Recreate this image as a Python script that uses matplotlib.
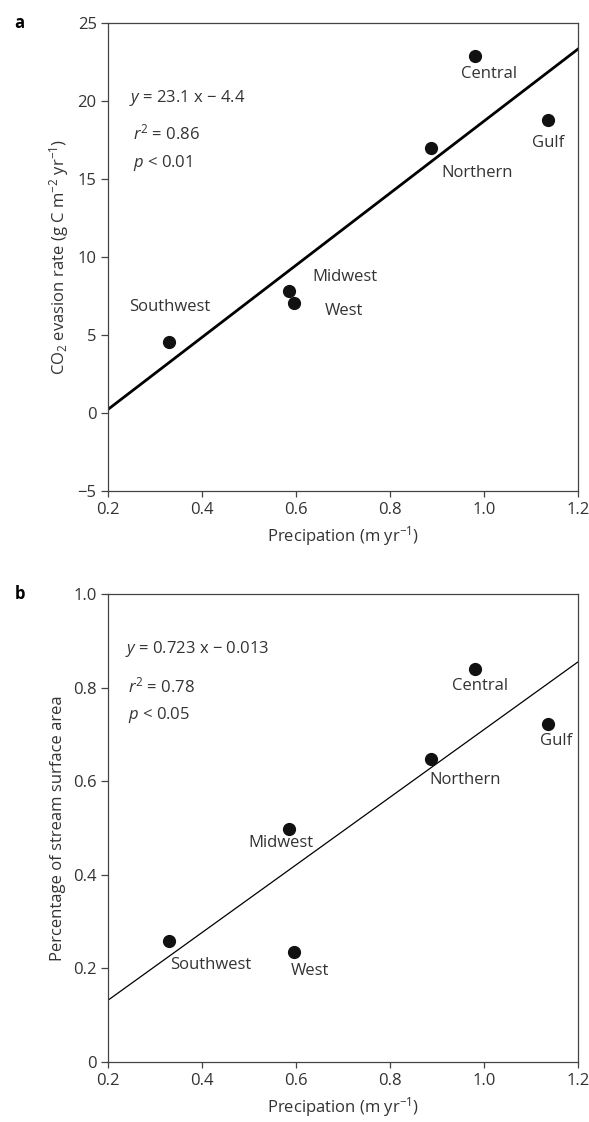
import matplotlib
matplotlib.use('Agg')
import matplotlib.pyplot as plt
import numpy as np

plt.rcParams['font.family'] = ['Open Sans', 'DejaVu Sans']
plt.rcParams['mathtext.fontset'] = 'custom'
plt.rcParams['mathtext.rm'] = 'Open Sans'
plt.rcParams['mathtext.it'] = 'Open Sans:italic'
plt.rcParams['axes.unicode_minus'] = True

regions = ['Southwest', 'Midwest', 'West', 'Northern', 'Central', 'Gulf']
precip = [0.330, 0.585, 0.597, 0.887, 0.981, 1.137]

# panel a: CO2 evasion
co2 = [4.55, 7.80, 7.03, 17.0, 22.88, 18.76]
co2_fit = (23.1, -4.4)
co2_lbl_x = [0.332, 0.704, 0.703, 0.986, 1.012, 1.136]
co2_lbl_y = [6.79, 8.72, 6.52, 15.4, 21.75, 17.3]

# panel b: stream surface area
area = [0.258, 0.498, 0.235, 0.647, 0.840, 0.723]
area_fit = (0.723, -0.013)
area_lbl_x = [0.418, 0.569, 0.630, 0.961, 0.991, 1.153]
area_lbl_y = [0.207, 0.468, 0.195, 0.602, 0.803, 0.685]

xticks = [0.2, 0.4, 0.6, 0.8, 1.0, 1.2]
xticklabels = ['0.2', '0.4', '0.6', '0.8', '1.0', '1.2']

fig = plt.figure(figsize=(5.89, 11.22), dpi=100)
axa = fig.add_axes([0.183, 0.5624, 0.798, 0.4171])
axb = fig.add_axes([0.183, 0.0535, 0.798, 0.4171])

fs = 12
txtc = '#333333'

def style(ax):
        for s in ax.spines.values():
                s.set_linewidth(0.9)
                s.set_color('#444444')
        ax.tick_params(direction='out', width=0.9, color='#444444',
                       labelsize=fs, labelcolor=txtc)
        ax.tick_params(axis='x', length=4, pad=4)
        ax.tick_params(axis='y', length=5, pad=3)
        ax.set_xlim(0.2, 1.2)
        ax.set_xticks(xticks)
        ax.set_xticklabels(xticklabels)
        ax.set_xlabel('Precipation (m yr$^{-1}$)', fontsize=fs, color=txtc, labelpad=4)

def draw(ax, y, fit, lx, ly, lw):
        xx = np.array([0.2, 1.2])
        ax.plot(xx, fit[0] * xx + fit[1], color='black', lw=lw, zorder=2)
        ax.plot(precip, y, 'o', color='#111111', ms=8.5, zorder=3)
        for name, tx, ty in zip(regions, lx, ly):
                ax.text(tx, ty, name, fontsize=fs, color=txtc, ha='center', va='center')

# panel a
style(axa)
draw(axa, co2, co2_fit, co2_lbl_x, co2_lbl_y, 2.0)
axa.set_ylim(-5, 25)
axa.set_yticks([-5, 0, 5, 10, 15, 20, 25])
axa.set_ylabel('CO$_2$ evasion rate (g C m$^{-2}$ yr$^{-1}$)', fontsize=fs, color=txtc, labelpad=5)
axa.text(0.246, 20.2, '$\\it{y}$ = 23.1 x \u2212 4.4', fontsize=fs, color=txtc, va='center')
axa.text(0.254, 17.9, '$\\it{r}^2$ = 0.86', fontsize=fs, color=txtc, va='center')
axa.text(0.254, 16.0, '$\\it{p}$ < 0.01', fontsize=fs, color=txtc, va='center')

# panel b
style(axb)
draw(axb, area, area_fit, area_lbl_x, area_lbl_y, 0.9)
axb.set_ylim(0, 1.0)
axb.set_yticks([0, 0.2, 0.4, 0.6, 0.8, 1.0])
axb.set_yticklabels(['0', '0.2', '0.4', '0.6', '0.8', '1.0'])
axb.set_ylabel('Percentage of stream surface area', fontsize=fs, color=txtc, labelpad=5)
axb.text(0.236, 0.882, '$\\it{y}$ = 0.723 x \u2212 0.013', fontsize=fs, color=txtc, va='center')
axb.text(0.244, 0.803, '$\\it{r}^2$ = 0.78', fontsize=fs, color=txtc, va='center')
axb.text(0.244, 0.741, '$\\it{p}$ < 0.05', fontsize=fs, color=txtc, va='center')

fig.text(0.025, 0.9795, 'a', fontsize=12, fontweight='bold', va='center')
fig.text(0.025, 0.4706, 'b', fontsize=12, fontweight='bold', va='center')

fig.savefig('out.png', dpi=100)
